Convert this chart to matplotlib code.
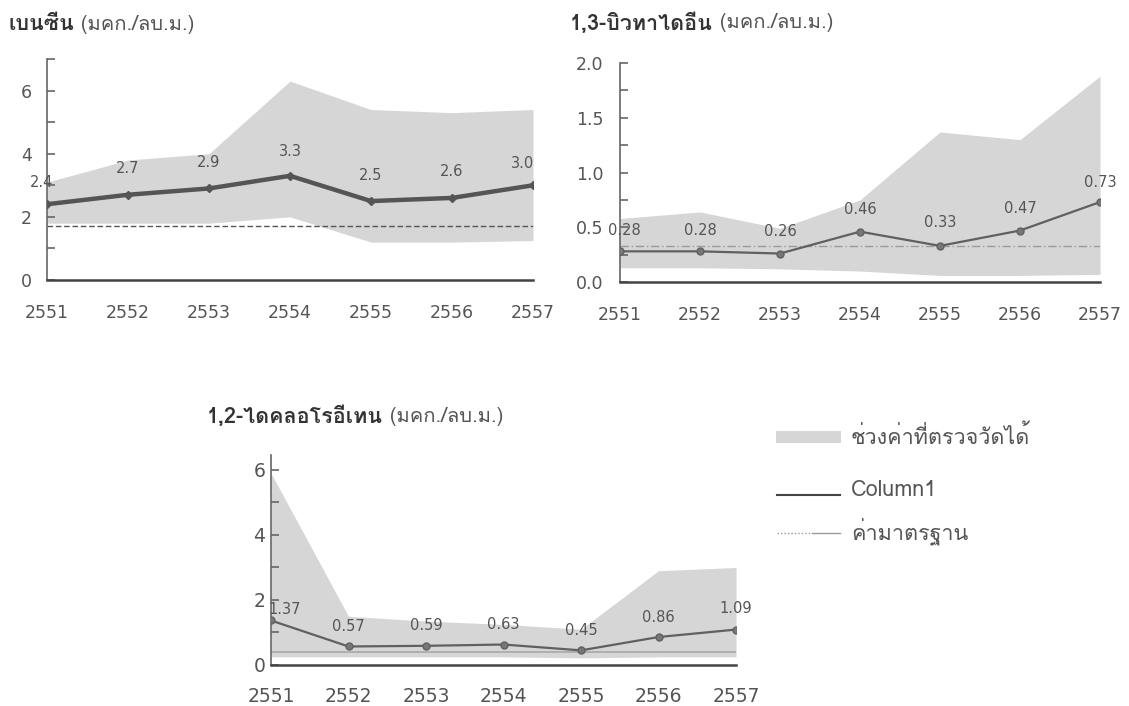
import numpy as np
import matplotlib
matplotlib.use('Agg')
import matplotlib.pyplot as plt
from matplotlib import font_manager
from matplotlib.ft2font import FT2Font
from matplotlib.lines import Line2D
from matplotlib.patches import Rectangle
from matplotlib.ticker import MultipleLocator

# years (Buddhist era)
years = [2551, 2552, 2553, 2554, 2555, 2556, 2557]

# benzene, ug/m3
benzene_mean = [2.4, 2.7, 2.9, 3.3, 2.5, 2.6, 3.0]
benzene_max = [3.1, 3.8, 4.0, 6.3, 5.4, 5.3, 5.4]
benzene_min = [1.8, 1.8, 1.8, 2.0, 1.2, 1.2, 1.25]
benzene_std = 1.7

# 1,3-butadiene, ug/m3
butadiene_mean = [0.28, 0.28, 0.26, 0.46, 0.33, 0.47, 0.73]
butadiene_max = [0.58, 0.64, 0.49, 0.75, 1.37, 1.30, 1.88]
butadiene_min = [0.13, 0.13, 0.12, 0.10, 0.06, 0.06, 0.07]
butadiene_std = 0.33

# 1,2-dichloroethane, ug/m3
dce_mean = [1.37, 0.57, 0.59, 0.63, 0.45, 0.86, 1.09]
dce_max = [5.9, 1.5, 1.35, 1.25, 1.1, 2.9, 3.0]
dce_min = [0.25, 0.25, 0.25, 0.25, 0.22, 0.25, 0.25]
dce_std = 0.4

titles = ['เบนซีน', '1,3-บิวทาไดอีน', '1,2-ไดคลอโรอีเทน']
unit = ' (มคก./ลบ.ม.)'
legend_labels = ['ช่วงค่าที่ตรวจวัดได้', 'Column1', 'ค่ามาตรฐาน']


def thai_font():
    # first installed family that has Thai glyphs
    for f in font_manager.fontManager.ttflist:
        try:
            if 0x0E40 in FT2Font(f.fname).get_charmap():
                return f.name
        except Exception:
            pass
    return 'DejaVu Sans'


thai = thai_font()
plt.rcParams['font.family'] = [thai, 'DejaVu Sans']

W, H = 1129, 706
fig = plt.figure(figsize=(W / 100, H / 100), dpi=100)


def fx(px):
    return px / W


def fy(py):
    return 1 - py / H


def axes_px(left, right, top, bottom):
    return fig.add_axes([fx(left), fy(bottom), (right - left) / W, (bottom - top) / H])


fill_c = '#d6d6d6'
txt_c = '#555555'


def draw_panel(ax, mean, lo, hi, std, ymax, major, minor, std_style, thick,
               fmt, lab_off, ypad=11):
    ax.fill_between(years, lo, hi, color=fill_c, lw=0, zorder=1)
    ax.plot(years, [std] * len(years), **std_style, zorder=2)
    if thick:
        ax.plot(years, mean, color='#555555', lw=3.2, marker='D', ms=4,
                solid_capstyle='round', zorder=3)
    else:
        ax.plot(years, mean, color='#606060', lw=1.6, marker='o', ms=5,
                mfc='#777777', mec='#606060', zorder=3)
    # value labels above each point
    for (x, v), (dx, dy) in zip(zip(years, mean), lab_off):
        ax.annotate(fmt.format(v), (x, v), xytext=(dx, dy), textcoords='offset pixels',
                    ha='center', va='center', fontsize=10.5, color=txt_c,
                    family='DejaVu Sans', zorder=4)
    ax.set_xlim(years[0], years[-1])
    ax.set_ylim(0, ymax)
    ax.set_xticks(years)
    ax.set_xticklabels([str(y) for y in years], family='DejaVu Sans')
    ax.yaxis.set_major_locator(MultipleLocator(major))
    ax.yaxis.set_minor_locator(MultipleLocator(minor))
    ax.tick_params(axis='x', length=0, pad=17, labelsize=12.5, labelcolor=txt_c)
    ax.tick_params(axis='y', which='both', direction='in', length=6, width=1.2,
                   color='#666666', pad=ypad, labelsize=12.5, labelcolor=txt_c)
    for lab in ax.get_yticklabels():
        lab.set_family('DejaVu Sans')
    for s in ['top', 'right']:
        ax.spines[s].set_visible(False)
    ax.spines['left'].set_color('#666666')
    ax.spines['left'].set_linewidth(1.2)
    ax.spines['bottom'].set_color('#444444')
    ax.spines['bottom'].set_linewidth(1.8)
    ax.set_facecolor('none')


# benzene
ax1 = axes_px(47, 533, 59, 280)
draw_panel(ax1, benzene_mean, benzene_min, benzene_max, benzene_std, 7, 2, 1,
           dict(color='#555555', lw=1, ls=(0, (4, 2))), True, '{:.1f}',
           [(-5, 22), (0, 26), (0, 26), (0, 24), (0, 26), (0, 26), (-10, 22)],
           ypad=11)

# 1,3-butadiene
ax2 = axes_px(620, 1100, 63, 282)
draw_panel(ax2, butadiene_mean, butadiene_min, butadiene_max, butadiene_std, 2.0, 0.5, 0.25,
           dict(color='#9a9a9a', lw=1, ls=(0, (6, 2, 1, 2))), False, '{:.2f}',
           [(4, 21), (0, 21), (0, 22), (0, 22), (0, 23), (0, 22), (0, 20)],
           ypad=12)
ax2.yaxis.set_major_formatter(lambda v, p: f'{v:.1f}')

# 1,2-dichloroethane
ax3 = axes_px(271, 736, 455, 665)
draw_panel(ax3, dce_mean, dce_min, dce_max, dce_std, 6.46, 2, 1,
           dict(color='#a8a8a8', lw=1.2, ls='-'), False, '{:.2f}',
           [(14, 11), (0, 20), (0, 20), (0, 20), (0, 20), (0, 20), (0, 21)],
           ypad=4)
ax3.tick_params(axis='x', pad=16, labelsize=13.5)
ax3.tick_params(axis='y', labelsize=13.5)

# titles: bold compound name followed by regular unit
fig.canvas.draw()
for (x, y), name in zip([(8, 24), (570, 23), (207, 416)], titles):
    t = fig.text(fx(x), fy(y), name, fontsize=15.5, fontweight='bold',
                 color='#333333', va='center', ha='left')
    bb = t.get_window_extent(renderer=fig.canvas.get_renderer())
    fig.text(bb.x1 / W, fy(y), unit, fontsize=14.5, color='#555555',
             va='center', ha='left')

# legend
fig.add_artist(Rectangle((fx(776), fy(443)), 65 / W, 12 / H, color=fill_c,
                         transform=fig.transFigure, lw=0))
fig.add_artist(Line2D([fx(777), fx(840)], [fy(495), fy(495)], color='#444444',
                      lw=1.5, transform=fig.transFigure))
fig.add_artist(Line2D([fx(777), fx(812)], [fy(533), fy(533)], color='#9a9a9a',
                      lw=1, ls=(0, (1, 1.5)), transform=fig.transFigure))
fig.add_artist(Line2D([fx(812), fx(840)], [fy(533), fy(533)], color='#9a9a9a',
                      lw=1, transform=fig.transFigure))
for y, lab in zip([437, 490, 532], legend_labels):
    fig.text(fx(851), fy(y), lab, fontsize=15.5, color='#555555',
             va='center', ha='left')

fig.savefig('out.png', dpi=100, facecolor='white')
